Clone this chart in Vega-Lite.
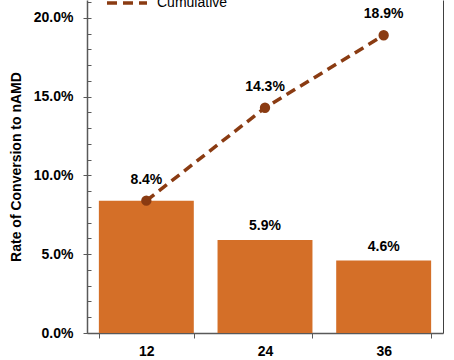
{
  "$schema": "https://vega.github.io/schema/vega-lite/v6.json",
  "width": 356,
  "height": 333,
  "autosize": {"type": "none"},
  "padding": {"left": 87, "top": 0, "right": 11, "bottom": 27},
  "background": "white",
  "config": {
    "view": {"stroke": null},
    "font": "Liberation Sans",
    "axis": {"domainColor": "#595959", "tickColor": "#595959", "labelFont": "Liberation Sans", "titleFont": "Liberation Sans"}
  },
  "data": {
    "values": [
      {"month": "12", "annual": 0.084, "cumulative": 0.084, "series": "Cumulative"},
      {"month": "24", "annual": 0.059, "cumulative": 0.143, "series": "Cumulative"},
      {"month": "36", "annual": 0.046, "cumulative": 0.189, "series": "Cumulative"}
    ]
  },
  "resolve": {"axis": {"y": "independent"}},
  "encoding": {
    "x": {
      "field": "month",
      "type": "ordinal",
      "sort": null,
      "scale": {"paddingInner": 0.2, "paddingOuter": 0.1},
      "axis": {
        "title": null,
        "labelAngle": 0,
        "labelFontSize": 14,
        "labelFontWeight": "bold",
        "labelColor": "black",
        "tickBand": "extent",
        "tickSize": 5,
        "labelPadding": 6,
        "domainWidth": 1.5
      }
    }
  },
  "layer": [
    {
      "mark": {"type": "bar", "color": "#D46F28"},
      "encoding": {
        "y": {
          "field": "annual",
          "type": "quantitative",
          "scale": {"domain": [0, 0.2114], "nice": false},
          "axis": {
            "orient": "left",
            "title": "Rate of Conversion to nAMD",
            "titleFontSize": 14,
            "titleFontWeight": "bold",
            "titleColor": "black",
            "titlePadding": 10,
            "values": [0, 0.05, 0.1, 0.15, 0.2],
            "format": ".1%",
            "labelFontSize": 14,
            "labelFontWeight": "bold",
            "labelColor": "black",
            "tickSize": 4,
            "labelPadding": 10,
            "domainWidth": 1.5,
            "grid": false
          }
        }
      }
    },
    {
      "mark": {"type": "rule", "opacity": 0},
      "encoding": {
        "y": {
          "field": "annual",
          "type": "quantitative",
          "axis": {
            "orient": "left",
            "title": null,
            "labels": false,
            "values": [0, 0.01, 0.02, 0.03, 0.04, 0.05, 0.06, 0.07, 0.08, 0.09, 0.1, 0.11, 0.12, 0.13, 0.14, 0.15, 0.16, 0.17, 0.18, 0.19, 0.2, 0.21],
            "tickSize": -4,
            "domain": false,
            "grid": false
          }
        }
      }
    },
    {
      "mark": {"type": "rule", "opacity": 0},
      "encoding": {
        "y": {
          "field": "annual",
          "type": "quantitative",
          "axis": {
            "orient": "right",
            "title": null,
            "labels": false,
            "ticks": false,
            "domainColor": "#404040",
            "domainWidth": 1,
            "grid": false
          }
        }
      }
    },
    {
      "transform": [{"filter": "datum.month != '12'"}],
      "mark": {"type": "text", "baseline": "alphabetic", "dy": -10, "fontSize": 14, "fontWeight": "bold", "color": "black"},
      "encoding": {
        "y": {"field": "annual", "type": "quantitative", "axis": null},
        "text": {"field": "annual", "type": "quantitative", "format": ".1%"}
      }
    },
    {
      "mark": {"type": "line", "color": "#8A3B12", "strokeWidth": 3.5, "strokeDash": [10, 6],
        "point": {"filled": true, "size": 70, "color": "#8A3B12"}},
      "encoding": {
        "y": {"field": "cumulative", "type": "quantitative", "axis": null},
        "stroke": {
          "field": "series",
          "type": "nominal",
          "scale": {"range": ["#8A3B12"]},
          "legend": {
            "title": null,
            "orient": "none",
            "legendX": 18,
            "legendY": -19,
            "symbolType": "stroke",
            "symbolDash": [10, 6],
            "symbolStrokeWidth": 3.5,
            "symbolSize": 1600,
            "labelFontSize": 14,
            "labelColor": "black",
            "labelOffset": 8
          }
        }
      }
    },
    {
      "mark": {"type": "text", "baseline": "alphabetic", "dy": -17, "fontSize": 14, "fontWeight": "bold", "color": "black"},
      "encoding": {
        "y": {"field": "cumulative", "type": "quantitative", "axis": null},
        "text": {"field": "cumulative", "type": "quantitative", "format": ".1%"}
      }
    }
  ]
}
